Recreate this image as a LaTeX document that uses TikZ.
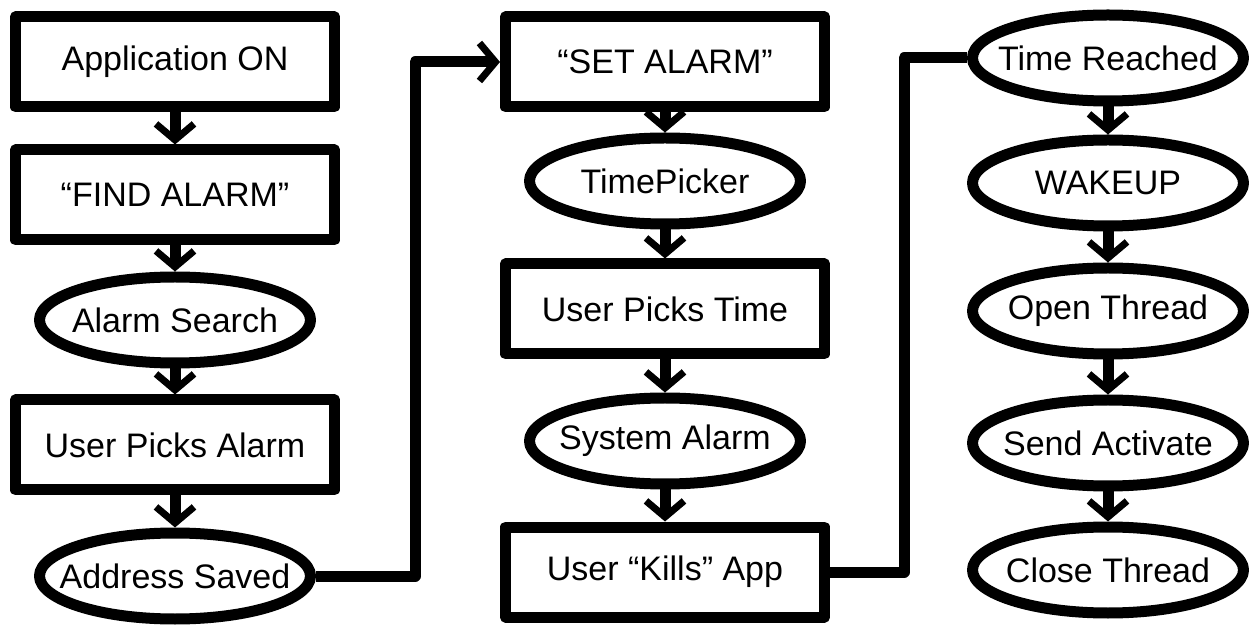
\documentclass[tikz,border=0pt]{standalone}
\usepackage{fontspec}
\setmainfont{Liberation Sans}
\usetikzlibrary{shapes.geometric,arrows.meta}

\begin{document}
\begin{tikzpicture}[x=0.5pt,y=-0.5pt,
	font=\fontsize{17pt}{20pt}\selectfont,
	line width=5.5pt, line join=round,
	box/.style={draw,rectangle,minimum width=159.5pt,minimum height=45pt,inner sep=0pt},
	oval/.style={draw,ellipse,minimum width=135.5pt,minimum height=43pt,inner sep=0pt},
	flow/.style={-{Straight Barb[length=8pt,width=19pt,line width=3.5pt]}}]
\useasboundingbox (0,0) rectangle (1253,625);
\path (175,62) node[box] (app) {Application ON}
		(175,195) node[box] (find) {“FIND ALARM”}
		(175,320) node[oval] (search) {\makebox[0pt]{Alarm Search}}
		(175,445) node[box] (pickalarm) {User Picks Alarm}
		(175,576) node[oval] (saved) {\makebox[0pt]{Address Saved}}
		(665,62) node[box] (setalarm) {“SET ALARM”}
		(665,181) node[oval] (timepicker) {\makebox[0pt]{TimePicker}}
		(665,309) node[box] (picktime) {User Picks Time}
		(665,441) node[oval] (sysalarm) {\makebox[0pt]{System Alarm}}
		(665,572) node[box] (kills) {User “Kills” App}
		(1108,58) node[oval] (reached) {\makebox[0pt]{Time Reached}}
		(1108,183) node[oval] (wakeup) {\makebox[0pt]{WAKEUP}}
		(1108,311) node[oval] (openth) {\makebox[0pt]{Open Thread}}
		(1108,443) node[oval] (sendact) {\makebox[0pt]{Send Activate}}
		(1108,570) node[oval] (closeth) {\makebox[0pt]{Close Thread}};

\coordinate (up1) at (415,62);
\coordinate (up2) at (904,58);

\draw[flow] (app) -- (find);
\draw[flow] (find) -- (search);
\draw[flow] (search) -- (pickalarm);
\draw[flow] (pickalarm) -- (saved);
\draw[flow] (saved.east) -| (up1) -- (setalarm.west);

\draw[flow] (setalarm) -- (timepicker);
\draw[flow] (timepicker) -- (picktime);
\draw[flow] (picktime) -- (sysalarm);
\draw[flow] (sysalarm) -- (kills);
\draw (kills.east) -| (up2) -- (reached.west);

\draw[flow] (reached) -- (wakeup);
\draw[flow] (wakeup) -- (openth);
\draw[flow] (openth) -- (sendact);
\draw[flow] (sendact) -- (closeth);
\end{tikzpicture}
\end{document}
